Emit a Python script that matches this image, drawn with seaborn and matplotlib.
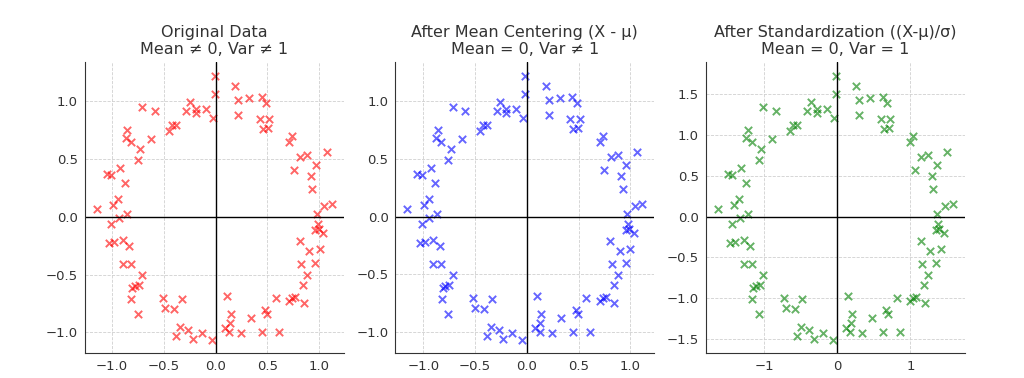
import numpy as np
import pandas as pd
import seaborn as sns
import matplotlib.pyplot as plt

x_vals = [-0.007, -0.007, -0.71, -0.587, -0.25, -0.284, -0.19, -0.19, -0.097, -0.026,
          -0.855, -0.87, -0.82, -0.62, -0.73, -0.75, -0.45, -0.42, -0.38, -0.92,
          -1.05, -1.006, -0.877, -0.94, -0.99, -1.148,
          -1.006, -0.935, -0.858, -1.025, -0.98, -0.897, -0.832, -0.897, -0.82, -0.71,
          -0.806, -0.742, -0.78, -0.816, -0.75, -0.51, -0.33, -0.49, -0.403, -0.34,
          -0.265, -0.38, -0.22, -0.135, -0.039,
          0.109, 0.148, 0.09, 0.135, 0.129, 0.245, 0.338, 0.45, 0.477, 0.499,
          0.58, 0.612, 0.709, 0.741, 0.767, 0.851, 0.844, 0.883, 0.825, 0.96,
          0.812, 0.902, 1.006, 0.96, 0.993, 0.983, 1.037, 0.973, 1.047, 1.122,
          0.187, 0.219, 0.322, 0.445, 0.49, 0.219, 0.425, 0.515, 0.457, 0.503,
          0.741, 0.709, 0.818, 0.883, 1.07, 0.967, 0.754, 0.919, 0.934]
y_vals = [1.22, 1.06, 0.95, 0.914, 0.99, 0.914, 0.934, 0.90, 0.934, 0.856,
          0.753, 0.68, 0.646, 0.675, 0.588, 0.493, 0.744, 0.79, 0.79, 0.42,
          0.366, 0.36, 0.294, 0.15, 0.098, 0.069,
          -0.06, -0.011, 0.026, -0.228, -0.219, -0.199, -0.254, -0.41, -0.41, -0.50,
          -0.617, -0.594, -0.6, -0.715, -0.84, -0.70, -0.709, -0.785, -0.796, -0.949,
          -0.978, -1.027, -1.058, -1.003, -1.067,
          -0.686, -0.842, -0.963, -0.917, -0.997, -1.003, -0.874, -0.997, -0.804, -0.842,
          -0.703, -0.992, -0.729, -0.703, -0.692, -0.747, -0.588, -0.502, -0.41, -0.404,
          -0.213, -0.297, -0.283, -0.113, -0.11, -0.06, -0.141, 0.02, 0.093, 0.11,
          1.127, 1.006, 1.027, 1.035, 0.984, 0.882, 0.848, 0.848, 0.761, 0.767,
          0.698, 0.646, 0.513, 0.53, 0.56, 0.45, 0.40, 0.352, 0.236]

titles = ["Original Data\nMean \u2260 0, Var \u2260 1",
          "After Mean Centering (X - \u03bc)\nMean = 0, Var \u2260 1",
          "After Standardization ((X-\u03bc)/\u03c3)\nMean = 0, Var = 1"]
colors = ["red", "blue", "green"]

X = np.column_stack([x_vals, y_vals])
centered = X - X.mean(axis=0)
standardized = centered / X.std(axis=0)
datasets = [X, centered, standardized]

sns.set_style("ticks", {"axes.grid": True, "grid.linestyle": "--", "grid.color": "#d0d0d0",
                        "axes.edgecolor": "#333333"})
plt.rcParams["font.family"] = ["DejaVu Sans"]

fig, axs = plt.subplots(1, 3, figsize=(10.24, 3.78), dpi=100)
for ax, d, t, c in zip(axs, datasets, titles, colors):
    df = pd.DataFrame({"x": d[:, 0], "y": d[:, 1]})
    sns.scatterplot(data=df, x="x", y="y", ax=ax, marker="x", color=c, alpha=0.6, s=28, linewidth=1.4)
    ax.axhline(0, color="black", linewidth=1)
    ax.axvline(0, color="black", linewidth=1)
    ax.set_title(t, fontsize=11.5, color="#333333")
    ax.set_xlabel("")
    ax.set_ylabel("")
    ax.tick_params(labelsize=9.5, colors="#333333", length=0, pad=5)
    ax.grid(True, linestyle="--", linewidth=0.6, color="#d0d0d0")
    sns.despine(ax=ax)

axs[2].set_xticks([-1, 0, 1])
fig.subplots_adjust(left=0.083, right=0.942, bottom=0.065, top=0.835, wspace=0.2)
plt.savefig("out.png")
